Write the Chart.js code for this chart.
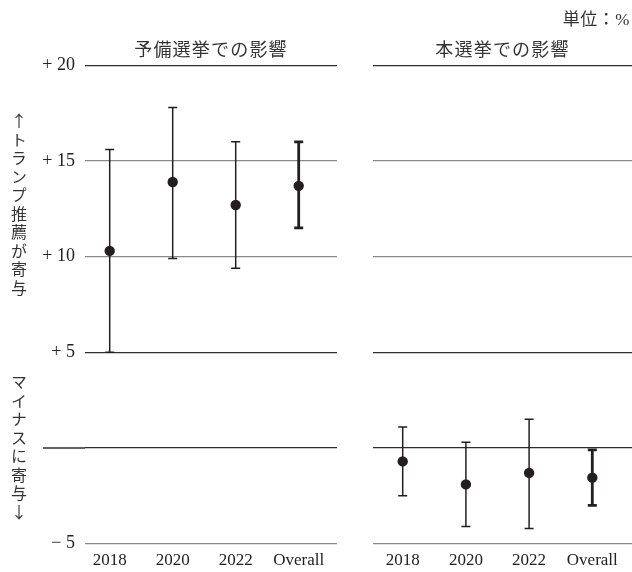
<!DOCTYPE html>
<html lang="ja">
<head>
<meta charset="utf-8">
<script src="https://cdn.jsdelivr.net/npm/chart.js@4/dist/chart.umd.min.js"></script>
<style>
  html, body { margin: 0; padding: 0; background: #fff; }
  #wrap { position: relative; width: 632px; height: 572px; overflow: hidden; }
  .panel { position: absolute; top: 0; height: 572px; }
  #leftPanel { left: 0; width: 345px; }
  #rightPanel { left: 345px; width: 287px; }
  .title { position: absolute; top: 35px; height: 20px; line-height: 20px; text-align: center;
           font: 18px 'Noto Sans CJK JP', sans-serif; color: #333; letter-spacing: 1.2px; }
  #unit { position: absolute; right: 2px; top: 5px; font: 17px 'Liberation Serif', 'Noto Sans CJK JP', serif; color: #333; letter-spacing: 0.5px; }
  .vlabel { position: absolute; left: 11px; writing-mode: vertical-rl; text-orientation: upright;
            font: 16px 'Noto Sans CJK JP', sans-serif; color: #333; letter-spacing: 2.5px; line-height: 16px; }
</style>
</head>
<body>
<div id="wrap">
  <div class="panel" id="leftPanel"><canvas id="primaryChart"></canvas></div>
  <div class="panel" id="rightPanel"><canvas id="generalChart"></canvas></div>
  <div class="title" style="left:85px;width:252px;">予備選挙での影響</div>
  <div class="title" style="left:373px;width:259px;">本選挙での影響</div>
  <div id="unit">単位：%</div>
  <div class="vlabel" style="top:113px;">↑トランプ推薦が寄与</div>
  <div class="vlabel" style="top:374px;">マイナスに寄与↓</div>
</div>
<script>
// Categories along the horizontal axis
const categories = ['2018', '2020', '2022', 'Overall'];

// Effect of a Trump endorsement in primaries (%): estimate and interval
const primaryEst  = [10.3, 13.9, 12.7, 13.7];
const primaryLow  = [5.0, 9.9, 9.4, 11.5];
const primaryHigh = [15.6, 17.8, 16.0, 16.0];

// Effect in general elections (%)
const generalEst  = [-0.7, -1.9, -1.3, -1.55];
const generalLow  = [-2.5, -4.1, -4.2, -3.0];
const generalHigh = [1.1, 0.3, 1.5, -0.1];

// Vertical axis ticks and their labels
const yTicks = [-5, 0, 5, 10, 15, 20];
const yTickLabels = ['− 5', '', '+ 5', '+ 10', '+ 15', '+ 20'];

const INK = '#231f20';
const DARK_RULE = '#2e2e2e';
const LIGHT_RULE = '#8a8a8a';
const darkRules = [20, 5, 0];

function buildDatasets(est, low, high) {
  const sets = [{
    label: 'estimate',
    data: est.map((v, i) => ({ x: i, y: v })),
    showLine: false,
    pointRadius: 5.2,
    pointHoverRadius: 5.2,
    pointBackgroundColor: INK,
    pointBorderColor: INK,
    pointBorderWidth: 0,
    order: 0
  }];
  categories.forEach((c, i) => {
    const w = c === 'Overall' ? 2.8 : 1.5;
    sets.push({
      label: 'interval ' + c,
      data: [{ x: i, y: low[i] }, { x: i, y: high[i] }],
      showLine: true,
      borderColor: INK,
      borderWidth: w,
      pointStyle: 'line',
      pointRadius: 4.5,
      pointHoverRadius: 4.5,
      pointBorderColor: INK,
      pointBorderWidth: w,
      order: 1
    });
  });
  return sets;
}

// Extends the zero rule leftwards into the label gutter
const zeroRuleExtension = {
  id: 'zeroRuleExtension',
  beforeDatasetsDraw(chart, args, opts) {
    if (!opts.from) return;
    const y = chart.scales.y.getPixelForValue(0);
    const ctx = chart.ctx;
    ctx.save();
    ctx.strokeStyle = DARK_RULE;
    ctx.lineWidth = 1.3;
    ctx.beginPath();
    ctx.moveTo(opts.from, y);
    ctx.lineTo(chart.chartArea.left, y);
    ctx.stroke();
    ctx.restore();
  }
};

function makeChart(id, est, low, high, cfg) {
  return new Chart(document.getElementById(id), {
    type: 'scatter',
    data: { datasets: buildDatasets(est, low, high) },
    plugins: [zeroRuleExtension],
    options: {
      responsive: true,
      maintainAspectRatio: false,
      animation: false,
      devicePixelRatio: 1,
      layout: { padding: cfg.padding, autoPadding: false },
      plugins: {
        legend: { display: false },
        tooltip: { enabled: false },
        zeroRuleExtension: { from: cfg.zeroFrom }
      },
      scales: {
        x: {
          type: 'linear',
          min: cfg.xMin,
          max: cfg.xMax,
          afterBuildTicks: s => { s.ticks = categories.map((_, i) => ({ value: i })); },
          afterFit: s => { s.height = 28.3; },
          grid: { display: false, drawTicks: false },
          border: { display: false },
          ticks: {
            autoSkip: false,
            maxRotation: 0,
            padding: 7,
            color: '#222',
            font: { family: "'Liberation Serif', serif", size: 17 },
            callback: v => categories[v]
          }
        },
        y: {
          min: -5,
          max: 20,
          afterBuildTicks: s => { s.ticks = yTicks.map(v => ({ value: v })); },
          afterFit: s => { s.width = cfg.yWidth; },
          grid: {
            drawTicks: false,
            lineWidth: 1.3,
            color: c => darkRules.includes(c.tick.value) ? DARK_RULE : LIGHT_RULE
          },
          border: { display: false },
          ticks: {
            display: cfg.showYTicks,
            padding: 10,
            color: '#222',
            font: { family: "'Liberation Serif', serif", size: 18 },
            callback: v => yTickLabels[yTicks.indexOf(v)]
          }
        }
      }
    }
  });
}

makeChart('primaryChart', primaryEst, primaryLow, primaryHigh, {
  padding: { left: 0, right: 8, top: 65.3, bottom: 0 },
  xMin: -0.392, xMax: 3.608,
  yWidth: 85, showYTicks: true, zeroFrom: 43
});

makeChart('generalChart', generalEst, generalLow, generalHigh, {
  padding: { left: 28, right: 0, top: 65.3, bottom: 0 },
  xMin: -0.47, xMax: 3.628,
  yWidth: 0, showYTicks: false, zeroFrom: 0
});
</script>
</body>
</html>
